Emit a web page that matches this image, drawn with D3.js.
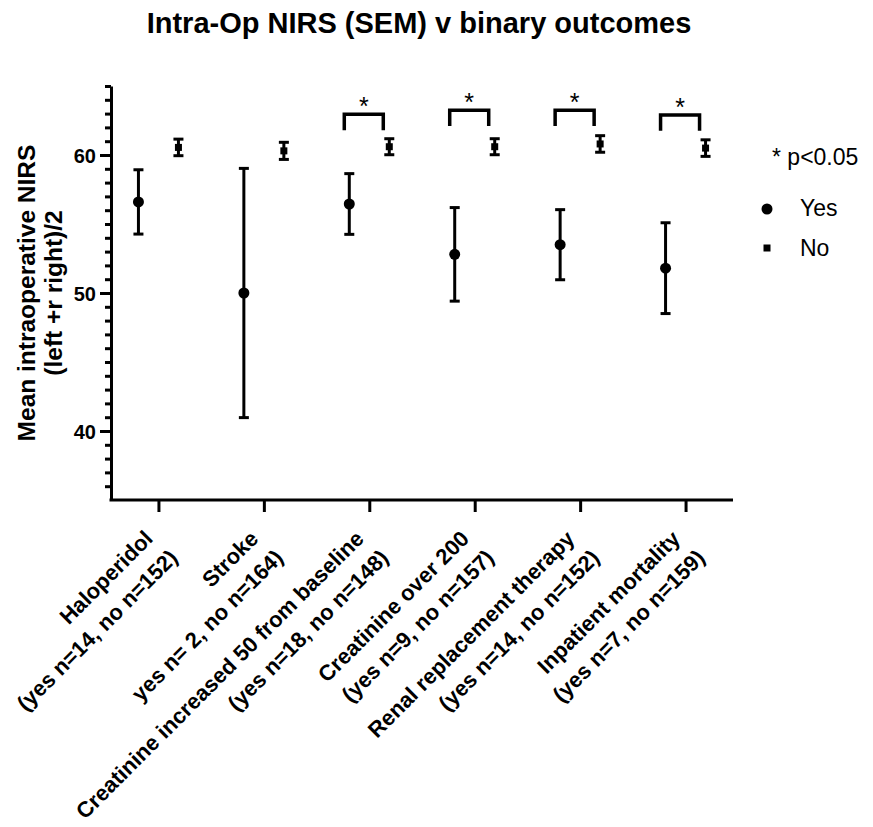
<!DOCTYPE html>
<html>
<head>
<meta charset="utf-8">
<script src="https://cdn.jsdelivr.net/npm/d3@7"></script>
<style>
  body { margin: 0; background: #fff; }
  svg { display: block; font-family: "Liberation Sans", Arial, sans-serif; }
</style>
</head>
<body>
<div id="chart"></div>
<script>
// Data
const labelLine1 = ["Haloperidol", "Stroke", "Creatinine increased 50 from baseline",
    "Creatinine over 200", "Renal replacement therapy", "Inpatient mortality"]
const labelLine2 = ["(yes n=14, no n=152)", "yes n= 2, no n=164)", "(yes n=18, no n=148)",
    "(yes n=9, no n=157)", "(yes n=14, no n=152)", "(yes n=7, no n=159)"]
const yesMean = [56.6, 50.0, 56.45, 52.8, 53.5, 51.8]
const yesSem = [2.33, 9.03, 2.2, 3.39, 2.54, 3.29]
const noMean = [60.55, 60.3, 60.6, 60.6, 60.8, 60.5]
const noSem = [0.6, 0.62, 0.58, 0.58, 0.6, 0.6]
// significance brackets (category index, top value, leg bottom value)
const sigCats = [2, 3, 4, 5]
const sigTop = [62.95, 63.25, 63.25, 62.9]
const sigBottom = [61.8, 62.1, 62.1, 61.75]
const majorTicks = [40, 50, 60]

// Constants
const width = 873
const height = 827
const margin = { top: 86, left: 111, right: 140, bottom: 327 }
const graphWidth = width - margin.left - margin.right
const graphHeight = height - margin.top - margin.bottom
const offset = 20
const fontFamily = '"Liberation Sans", Arial, sans-serif'

const svg = d3.select("#chart").append("svg")
    .attr("width", width)
    .attr("height", height)

const cats = d3.range(labelLine1.length)

const x = d3.scalePoint()
    .domain(cats)
    .range([0, graphWidth])
    .padding(0.45)

const y = d3.scaleLinear()
    .domain([35, 65])
    .range([graphHeight, 0])

const g = svg.append("g")
    .attr("transform", `translate(${margin.left}, ${margin.top})`)

// Title
svg.append("text")
    .attr("x", 419)
    .attr("y", 33)
    .attr("text-anchor", "middle")
    .style("font-size", "29px")
    .style("font-weight", "bold")
    .text("Intra-Op NIRS (SEM) v binary outcomes")

// Y axis: minor ticks then major ticks
const minorTicks = d3.range(36, 66).filter(d => !majorTicks.includes(d))
const yMinor = g.append("g")
    .call(d3.axisLeft(y).tickValues(minorTicks).tickSize(6).tickFormat(""))
yMinor.select(".domain").remove()

const yAxis = g.append("g")
    .call(d3.axisLeft(y).tickValues(majorTicks).tickSize(11).tickSizeOuter(0).tickPadding(4))
yAxis.selectAll("text")
    .style("font-size", "20px")
    .style("font-weight", "bold")
    .style("font-family", fontFamily)
    .attr("fill", "#000")
    .attr("dy", "0.36em")
g.selectAll(".tick line, .domain")
    .attr("stroke", "#000")
    .attr("stroke-width", 3)

// X axis
const xAxis = g.append("g")
    .attr("transform", `translate(0, ${graphHeight})`)
    .call(d3.axisBottom(x).tickSize(12).tickSizeOuter(0).tickFormat(""))
xAxis.selectAll(".tick line, .domain")
    .attr("stroke", "#000")
    .attr("stroke-width", 3)
xAxis.select(".domain").attr("d", `M-1.5,0H${graphWidth}`)

// X labels, rotated
const labels = g.append("g")
    .attr("transform", `translate(0, ${graphHeight})`)
    .selectAll(".xlabel")
    .data(cats)
    .enter().append("text")
    .attr("class", "xlabel")
    .attr("transform", d => `translate(${x(d)}, 16) rotate(-45)`)
    .attr("text-anchor", "end")
    .attr("fill", "#000")
    .style("font-size", "22px")
    .style("font-weight", "bold")
labels.append("tspan").attr("x", -20).attr("y", 14).text(d => labelLine1[d])
labels.append("tspan").attr("x", -16).attr("y", 45).text(d => labelLine2[d])

// Y axis label
const ylab = svg.append("text")
    .attr("transform", `translate(0, ${margin.top + y(50)}) rotate(-90)`)
    .attr("text-anchor", "middle")
    .style("font-size", "24.5px")
    .style("font-weight", "bold")
ylab.append("tspan").attr("x", 0).attr("y", 35).text("Mean intraoperative NIRS")
ylab.append("tspan").attr("x", 0).attr("y", 62).text("(left +r right)/2")

// Error bars
function drawSeries(means, sems, dx, cls) {
    const grp = g.append("g").attr("class", cls)
    const bars = grp.selectAll("g").data(cats).enter().append("g")
    bars.append("line")
        .attr("x1", d => x(d) + dx).attr("x2", d => x(d) + dx)
        .attr("y1", d => y(means[d] + sems[d])).attr("y2", d => y(means[d] - sems[d]))
    bars.append("line")
        .attr("x1", d => x(d) + dx - 5).attr("x2", d => x(d) + dx + 5)
        .attr("y1", d => y(means[d] + sems[d])).attr("y2", d => y(means[d] + sems[d]))
    bars.append("line")
        .attr("x1", d => x(d) + dx - 5).attr("x2", d => x(d) + dx + 5)
        .attr("y1", d => y(means[d] - sems[d])).attr("y2", d => y(means[d] - sems[d]))
    bars.selectAll("line").attr("stroke", "#000").attr("stroke-width", 3)
    return bars
}

const yesBars = drawSeries(yesMean, yesSem, -offset, "yes")
yesBars.append("circle")
    .attr("cx", d => x(d) - offset)
    .attr("cy", d => y(yesMean[d]))
    .attr("r", 5.5)
    .attr("fill", "#000")

const noBars = drawSeries(noMean, noSem, offset, "no")
noBars.append("rect")
    .attr("x", d => x(d) + offset - 3.5)
    .attr("y", d => y(noMean[d]) - 3.5)
    .attr("width", 7)
    .attr("height", 7)
    .attr("fill", "#000")

// Significance brackets
const sig = g.selectAll(".sig")
    .data(sigCats)
    .enter().append("g")
    .attr("class", "sig")
sig.append("path")
    .attr("d", (d, i) => {
        const x0 = x(d) - offset - 5, x1 = x(d) + offset - 6
        return `M${x0},${y(sigBottom[i])}V${y(sigTop[i])}H${x1}V${y(sigBottom[i])}`
    })
    .attr("fill", "none")
    .attr("stroke", "#000")
    .attr("stroke-width", 3.5)
sig.append("text")
    .attr("x", d => x(d) - 5.5)
    .attr("y", (d, i) => y(sigTop[i]) + 1)
    .attr("text-anchor", "middle")
    .style("font-size", "25px")
    .text("*")

// Legend
const legend = svg.append("g")
legend.append("text")
    .attr("x", 772).attr("y", 165)
    .style("font-size", "23px")
    .text("* p<0.05")
legend.append("circle")
    .attr("cx", 767).attr("cy", 209).attr("r", 5.5).attr("fill", "#000")
legend.append("text")
    .attr("x", 800).attr("y", 216)
    .style("font-size", "23px")
    .text("Yes")
legend.append("rect")
    .attr("x", 763.5).attr("y", 244.5).attr("width", 7).attr("height", 7).attr("fill", "#000")
legend.append("text")
    .attr("x", 800).attr("y", 256)
    .style("font-size", "23px")
    .text("No")
</script>
</body>
</html>
